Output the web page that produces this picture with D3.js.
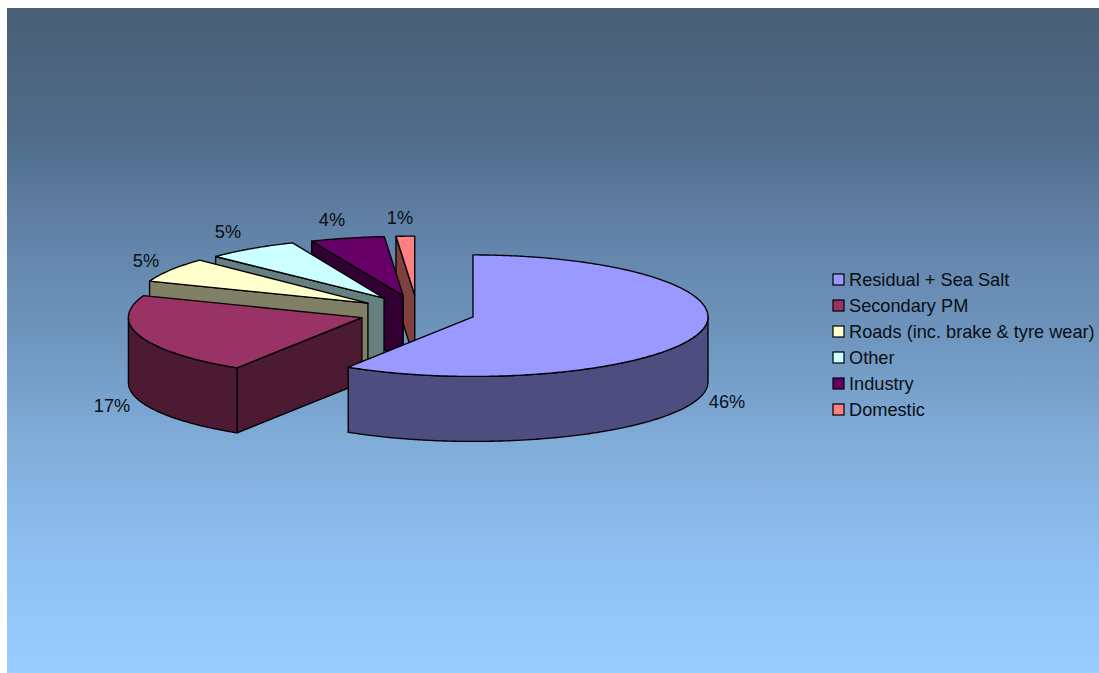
<!DOCTYPE html>
<html>
<head>
<meta charset="utf-8">
<script src="https://cdn.jsdelivr.net/npm/d3@7/dist/d3.min.js"></script>
<style>
html,body{margin:0;padding:0;background:#fff}
svg{display:block}
text{font-family:"Liberation Sans",Arial,sans-serif;fill:#0a0f14}
</style>
</head>
<body>
<svg id="chart" width="1099" height="673"></svg>
<script>
const categories = ["Residual + Sea Salt","Secondary PM","Roads (inc. brake & tyre wear)","Other","Industry","Domestic"];
const shares = [46,17,5,5,4,1];
const labels = ["46%","17%","5%","5%","4%","1%"];
const topColors = ["#9999FF","#993366","#FFFFCC","#CCFFFF","#660066","#FF8080"];
const wallColors = ["#4D4D80","#4D1A33","#808066","#668080","#330033","#804040"];
const labelSpots = [[727,402],[112,406],[146,261],[228,232],[332,220],[400,218]];
const bgStops = [[8,"#4A5F77"],[125,"#4F6A88"],[241,"#6384AA"],[340,"#6F96BE"],[440,"#80ACD8"],[560,"#8FC0F2"],[673,"#99CCFF"]];

const W = 1099, H = 673;
const svg = d3.select("#chart");
const defs = svg.append("defs");
const grad = defs.append("linearGradient").attr("id","bg").attr("x1",0).attr("y1",0).attr("x2",0).attr("y2",1);
const stopAt = d3.scaleLinear().domain([8,673]).range([0,100]);
bgStops.forEach(s=>grad.append("stop").attr("offset",stopAt(s[0])+"%").attr("stop-color",s[1]));
svg.append("rect").attr("x",7).attr("y",8).attr("width",W-7).attr("height",H-8).attr("fill","url(#bg)");

// Projection of the tilted disk
const rxRight = 235, rxLeft = 233.5, ryFront = 59.5, depth = 65;
const explodeX = 0.2476, explodeY = 17;
const cx = 417.1, cy = 312.2;
const sx = d3.scaleLinear().domain([-1,0,1]).range([cx-rxRight*explodeX*4, cx, cx+rxRight*explodeX*4]);
// far slices appear slightly shallower
const ryBack = d3.scaleLinear().domain([295,303,317]).range([59,62,62]).clamp(true);

const arcs = d3.pie().sort(null).value(d=>d).startAngle(0).endAngle(2*Math.PI)(shares);

function apex(a){
  const m=(a.startAngle+a.endAngle)/2;
  return [cx + rxRight*explodeX*Math.sin(m), cy - explodeY*Math.cos(m)];
}
function rim(a,t){
  const [ax,ay]=apex(a);
  const c=Math.cos(t), s=Math.sin(t);
  const dy = c>=0 ? -ryBack(ay)*c : -ryFront*c;
  const dx = s>=0 ? rxRight*s : rxLeft*s;
  return [ax+dx, ay+dy];
}
function arcPts(a,t0,t1){
  const n=Math.max(2,Math.ceil((t1-t0)/0.01));
  return d3.range(n+1).map(i=>rim(a,t0+(t1-t0)*i/n));
}
const line = d3.line();
const g = svg.append("g").attr("stroke","#000").attr("stroke-width",1.35).attr("stroke-linejoin","round");

// back to front
const order = d3.range(arcs.length).reverse();
order.forEach(i=>{
  const a=arcs[i];
  const A=apex(a);
  const s=rim(a,a.startAngle);
  if(i>0){
    g.append("path").attr("d",line([A,s,[s[0],s[1]+depth],[A[0],A[1]+depth]])+"Z").attr("fill",wallColors[i]);
  }
  const t0=Math.max(a.startAngle,Math.PI/2), t1=Math.min(a.endAngle,3*Math.PI/2);
  if(t1>t0){
    const up=arcPts(a,t0,t1);
    const down=up.map(p=>[p[0],p[1]+depth]).reverse();
    g.append("path").attr("d",line(up.concat(down))+"Z").attr("fill",wallColors[i]);
  }
  g.append("path").attr("d",line([A].concat(arcPts(a,a.startAngle,a.endAngle)))+"Z").attr("fill",topColors[i]);
});

// data labels
svg.append("g").selectAll("text").data(labels).join("text")
  .attr("x",(d,i)=>labelSpots[i][0]).attr("y",(d,i)=>labelSpots[i][1]+6)
  .attr("text-anchor","middle").attr("font-size",18.2).text(d=>d);

// legend
const ly = d3.scalePoint().domain(categories).range([279.5,409.5]);
const legend = svg.append("g").selectAll("g").data(categories).join("g")
  .attr("transform",d=>`translate(833,${ly(d)})`);
legend.append("rect").attr("x",0).attr("y",-5.5).attr("width",11).attr("height",11)
  .attr("fill",(d,i)=>topColors[i]).attr("stroke","#000").attr("stroke-width",1.2);
legend.append("text").attr("x",16).attr("y",6).attr("font-size",18.2).text(d=>d);
</script>
</body>
</html>
